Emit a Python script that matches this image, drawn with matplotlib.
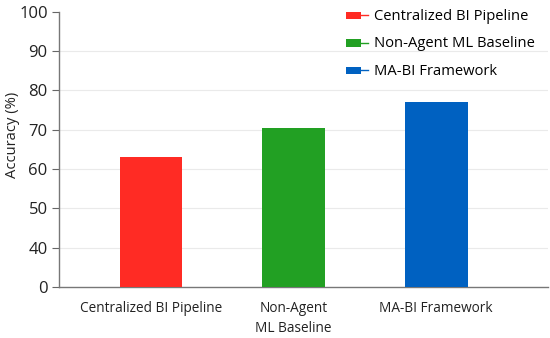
import matplotlib.pyplot as plt
from matplotlib.patches import Rectangle
from matplotlib.lines import Line2D
from matplotlib.legend_handler import HandlerBase

methods = ["Centralized BI Pipeline", "Non-Agent ML Baseline", "MA-BI Framework"]
tick_names = ["Centralized BI Pipeline", "Non-Agent\nML Baseline", "MA-BI Framework"]
accuracy = [63.0, 70.4, 77.0]
colors = ["#FF2B24", "#22A023", "#0061C1"]

# axis is broken: the "0" tick sits where 30 would be
y_ticks = [30, 40, 50, 60, 70, 80, 90, 100]
y_tick_labels = ["0", "40", "50", "60", "70", "80", "90", "100"]
y_base = 30

plt.rcParams["font.family"] = ["Open Sans", "DejaVu Sans"]


class RectTail(HandlerBase):
    def create_artists(self, legend, orig, xd, yd, w, h, fs, trans):
        rect = Rectangle((xd, yd + h * 0.1), w * 0.72, h * 0.8,
                         facecolor=orig.get_facecolor(), edgecolor="none",
                         transform=trans)
        tail = Line2D([xd + w * 0.72, xd + w], [yd + h / 2, yd + h / 2],
                      color=orig.get_facecolor(), lw=1, transform=trans)
        return [rect, tail]


fig, ax = plt.subplots(figsize=(5.5, 3.38), dpi=100)
fig.subplots_adjust(left=0.107, right=0.997, top=0.965, bottom=0.151)

x = range(len(methods))
bars = ax.bar(x, [a - y_base for a in accuracy], bottom=y_base, width=0.44,
              color=colors, label=methods, zorder=3)

ax.set_ylim(y_base, 100)
ax.set_xlim(-0.646, 2.786)
ax.set_yticks(y_ticks)
ax.set_yticklabels(y_tick_labels, fontsize=12, color="#222222")
ax.set_xticks(list(x))
ax.set_xticklabels(tick_names, fontsize=9.8, color="#222222", linespacing=1.45)
ax.tick_params(axis="x", length=0, pad=10)
ax.tick_params(axis="y", length=5, color="#666666", width=0.8, pad=3)
ax.set_ylabel("Accuracy (%)", fontsize=10.6, color="#222222")
ax.yaxis.set_label_coords(-0.080, 0.551)

for t in y_ticks[1:-1]:
    ax.axhline(t, color="#EAEAEA", lw=0.8, zorder=0)

for s in ["top", "right"]:
    ax.spines[s].set_visible(False)
for s in ["left", "bottom"]:
    ax.spines[s].set_color("#777777")
    ax.spines[s].set_linewidth(1.0)

ax.legend(handles=list(bars), labels=methods, handler_map={Rectangle: RectTail()},
          loc="upper right", bbox_to_anchor=(1.0, 1.06), frameon=False,
          fontsize=10.6, handlelength=1.5, handleheight=0.6, handletextpad=0.45,
          labelspacing=0.85)

fig.savefig("out.png", dpi=100)
